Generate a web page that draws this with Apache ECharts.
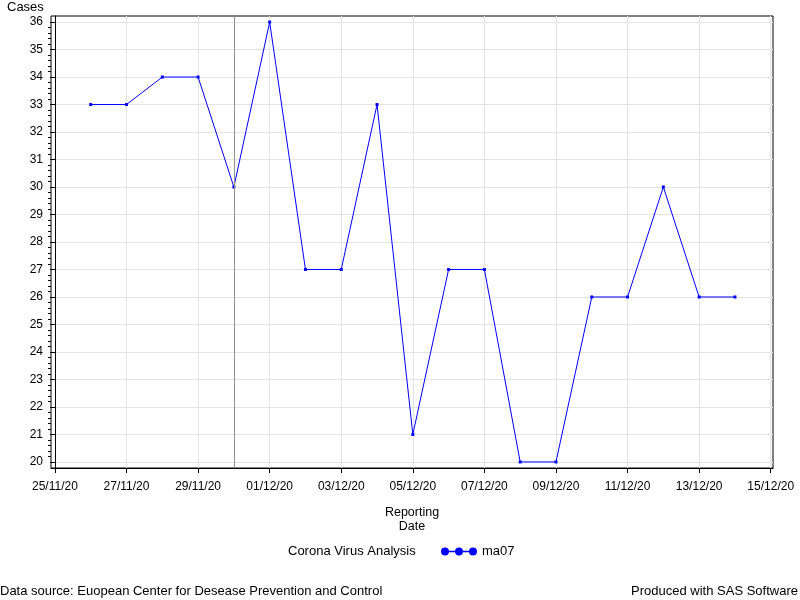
<!DOCTYPE html>
<html>
<head>
<meta charset="utf-8">
<script src="https://cdn.jsdelivr.net/npm/echarts@6/dist/echarts.min.js"></script>
<style>html,body{margin:0;padding:0;background:#fff}#c{width:800px;height:600px}</style>
</head>
<body>
<div id="c"></div>
<script>
// ---- data ----
const dates = ['26/11/20','27/11/20','28/11/20','29/11/20','30/11/20','01/12/20','02/12/20','03/12/20','04/12/20','05/12/20','06/12/20','07/12/20','08/12/20','09/12/20','10/12/20','11/12/20','12/12/20','13/12/20','14/12/20'];
const ma07 = [33,33,34,34,30,36,27,27,33,21,27,27,20,20,26,26,30,26,26];
const xTickLabels = ['25/11/20','27/11/20','29/11/20','01/12/20','03/12/20','05/12/20','07/12/20','09/12/20','11/12/20','13/12/20','15/12/20'];
const yTicks = [20,21,22,23,24,25,26,27,28,29,30,31,32,33,34,35,36];
const refDate = '30/11/20';
const xStart = '25/11/20';

const FONT = 'Liberation Sans, Arial, sans-serif';
function toUTC(s){const p=s.split('/');return Date.UTC(2000+ +p[2], +p[1]-1, +p[0]);}
const base = toUTC(xStart);
const DAY = 86400000;
function toDay(s){return Math.round((toUTC(s)-base)/DAY);}
function fmt(v){const d=new Date(base+Math.round(v)*DAY);const dd=String(d.getUTCDate()).padStart(2,'0');const mm=String(d.getUTCMonth()+1).padStart(2,'0');const yy=String(d.getUTCFullYear()%100).padStart(2,'0');return dd+'/'+mm+'/'+yy;}

const xTickVals = xTickLabels.map(toDay);
const points = dates.map((d,i)=>[toDay(d), ma07[i]]);
const yMinor = [];
for (let i=0;i<yTicks.length-1;i++){for(let k=1;k<5;k++){yMinor.push(+(yTicks[i]+(yTicks[i+1]-yTicks[i])*k/5).toFixed(3));}}

const iconPath = 'path://M0,4 a4,4 0 1,0 8,0 a4,4 0 1,0 -8,0 Z M14,4 a4,4 0 1,0 8,0 a4,4 0 1,0 -8,0 Z M28,4 a4,4 0 1,0 8,0 a4,4 0 1,0 -8,0 Z M8,3.3 H14 V4.7 H8 Z M22,3.3 H28 V4.7 H22 Z';

const chart = echarts.init(document.getElementById('c'), null, {renderer:'canvas'});
chart.setOption({
  animation:false,
  backgroundColor:'#fff',
  textStyle:{fontFamily:FONT},
  grid:{left:51,right:27,top:16,bottom:132,show:true,borderColor:'#000',borderWidth:1,backgroundColor:'transparent'},
  legend:{
    data:[{name:'ma07',icon:iconPath}],
    left:441, top:545, padding:0, itemWidth:36, itemHeight:8, itemGap:10,
    textStyle:{fontFamily:FONT,fontSize:13,color:'#000'},
    selectedMode:false
  },
  graphic:[
    {type:'text',left:7,top:1,style:{text:'Cases',font:'13px '+FONT,fill:'#000'}},
    {type:'text',left:288,top:545,style:{text:'Corona Virus Analysis',font:'13px '+FONT,fill:'#000'}},
    {type:'text',left:0,top:585,style:{text:'Data source: Euopean Center for Desease Prevention and Control',font:'13px '+FONT,fill:'#000'}},
    {type:'text',right:2,top:585,style:{text:'Produced with SAS Software',font:'13px '+FONT,fill:'#000'}}
  ],
  xAxis:{
    type:'value', min:-0.11, max:20.064, splitNumber:10,
    name:'Reporting\nDate', nameLocation:'middle', nameGap:38,
    nameTextStyle:{fontFamily:FONT,fontSize:12.5,color:'#000',lineHeight:14},
    axisLine:{show:true,lineStyle:{color:'#000',width:1}},
    axisTick:{show:true,length:5,customValues:xTickVals,lineStyle:{color:'#000'}},
    axisLabel:{customValues:xTickVals,formatter:fmt,margin:13,fontFamily:FONT,fontSize:12,color:'#000'},
    splitLine:{show:true,lineStyle:{color:'#e4e4e4',width:1}}
  },
  yAxis:[{
    type:'value', min:19.78, max:36.22, splitNumber:16,
    axisLine:{show:true,lineStyle:{color:'#000',width:1}},
    axisTick:{show:true,length:5,customValues:yTicks,lineStyle:{color:'#000'}},
    axisLabel:{customValues:yTicks,margin:8,fontFamily:FONT,fontSize:12,color:'#000'},
    splitLine:{show:true,lineStyle:{color:'#e4e4e4',width:1}}
  },{
    type:'value', min:19.78, max:36.22, position:'left',
    axisLine:{show:false},
    axisTick:{show:true,length:3,customValues:yMinor,lineStyle:{color:'#000'}},
    axisLabel:{show:false},
    splitLine:{show:false}
  }],
  series:[{
    name:'ma07', type:'line', data:points,
    symbol:'rect', symbolSize:3, showSymbol:true,
    itemStyle:{color:'#0000ff'},
    lineStyle:{color:'#0000ff',width:1},
    markLine:{
      silent:true, symbol:['none','none'], label:{show:false},
      lineStyle:{color:'#909090',type:'solid',width:1},
      data:[{xAxis:toDay(refDate)}]
    }
  }]
});
</script>
</body>
</html>
